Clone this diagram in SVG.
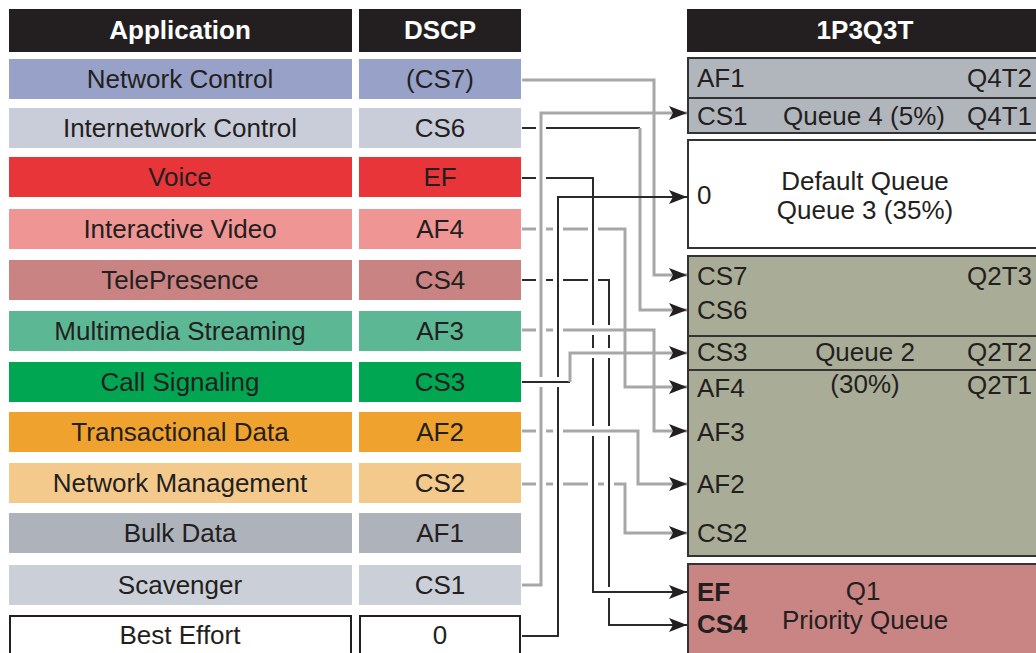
<svg xmlns="http://www.w3.org/2000/svg" width="1036" height="653" viewBox="0 0 1036 653">
  <style>
    text { font-family: "Liberation Sans", Arial, sans-serif; font-size: 26px; fill: #231f20; }
    .hd { fill: #231f20; }
    .hdt { fill: #ffffff; font-weight: bold; text-anchor: middle; }
    .c { text-anchor: middle; }
    .r { text-anchor: end; }
    .b { font-weight: bold; }
    .q { stroke: #333333; stroke-width: 2; }
    .g { fill: none; stroke: #a7a7a7; stroke-width: 3; }
    .k { fill: none; stroke: #2a2a2a; stroke-width: 2; }
  </style>
  <defs>
    <marker id="arrow" markerUnits="userSpaceOnUse" markerWidth="20" markerHeight="14" refX="18" refY="7" orient="auto">
      <path d="M0,0 L18,7 L0,14 L4,7 z" fill="#231f20"/>
    </marker>
  </defs>
  <rect width="1036" height="653" fill="#ffffff"/>

  <!-- column headers -->
  <g id="hdr-app"><rect class="hd" x="9" y="9" width="343" height="43"/><text class="hdt" x="180" y="39">Application</text></g>
  <g id="hdr-dscp"><rect class="hd" x="359" y="9" width="162" height="43"/><text class="hdt" x="440" y="39">DSCP</text></g>
  <g id="hdr-queue"><rect class="hd" x="687" y="9" width="360" height="43"/><text class="hdt" x="865" y="39">1P3Q3T</text></g>

  <!-- application / DSCP rows -->
  <g id="row-cs7"><rect x="9" y="59" width="343" height="40" fill="#98a1c8"/><rect x="359" y="59" width="162" height="40" fill="#98a1c8"/><text class="c" x="180" y="88">Network Control</text><text class="c" x="440" y="88">(CS7)</text></g>
  <g id="row-cs6"><rect x="9" y="108" width="343" height="40" fill="#c9ccd9"/><rect x="359" y="108" width="162" height="40" fill="#c9ccd9"/><text class="c" x="180" y="137">Internetwork Control</text><text class="c" x="440" y="137">CS6</text></g>
  <g id="row-ef"><rect x="9" y="157" width="343" height="40" fill="#e8353a"/><rect x="359" y="157" width="162" height="40" fill="#e8353a"/><text class="c" x="180" y="186">Voice</text><text class="c" x="440" y="186">EF</text></g>
  <g id="row-af4"><rect x="9" y="209" width="343" height="40" fill="#ef9594"/><rect x="359" y="209" width="162" height="40" fill="#ef9594"/><text class="c" x="180" y="238">Interactive Video</text><text class="c" x="440" y="238">AF4</text></g>
  <g id="row-cs4"><rect x="9" y="260" width="343" height="40" fill="#c98383"/><rect x="359" y="260" width="162" height="40" fill="#c98383"/><text class="c" x="180" y="289">TelePresence</text><text class="c" x="440" y="289">CS4</text></g>
  <g id="row-af3"><rect x="9" y="311" width="343" height="40" fill="#5cb894"/><rect x="359" y="311" width="162" height="40" fill="#5cb894"/><text class="c" x="180" y="340">Multimedia Streaming</text><text class="c" x="440" y="340">AF3</text></g>
  <g id="row-cs3"><rect x="9" y="362" width="343" height="40" fill="#00a651"/><rect x="359" y="362" width="162" height="40" fill="#00a651"/><text class="c" x="180" y="391">Call Signaling</text><text class="c" x="440" y="391">CS3</text></g>
  <g id="row-af2"><rect x="9" y="412" width="343" height="40" fill="#f0a22e"/><rect x="359" y="412" width="162" height="40" fill="#f0a22e"/><text class="c" x="180" y="441">Transactional Data</text><text class="c" x="440" y="441">AF2</text></g>
  <g id="row-cs2"><rect x="9" y="463" width="343" height="40" fill="#f4ca8c"/><rect x="359" y="463" width="162" height="40" fill="#f4ca8c"/><text class="c" x="180" y="492">Network Management</text><text class="c" x="440" y="492">CS2</text></g>
  <g id="row-af1"><rect x="9" y="513" width="343" height="40" fill="#adb2bb"/><rect x="359" y="513" width="162" height="40" fill="#adb2bb"/><text class="c" x="180" y="542">Bulk Data</text><text class="c" x="440" y="542">AF1</text></g>
  <g id="row-cs1"><rect x="9" y="565" width="343" height="40" fill="#cbcfd8"/><rect x="359" y="565" width="162" height="40" fill="#cbcfd8"/><text class="c" x="180" y="594">Scavenger</text><text class="c" x="440" y="594">CS1</text></g>
  <g id="row-be"><rect x="10" y="616" width="341" height="45" fill="#ffffff" stroke="#231f20" stroke-width="2"/><rect x="360" y="616" width="160" height="45" fill="#ffffff" stroke="#231f20" stroke-width="2"/><text class="c" x="180" y="644">Best Effort</text><text class="c" x="440" y="644">0</text></g>

  <!-- queue 4 -->
  <g id="queue4">
    <rect class="q" x="688" y="58" width="360" height="75" fill="#b1b6bd"/>
    <line class="q" x1="688" y1="98" x2="1048" y2="98"/>
    <text x="697" y="87">AF1</text><text class="r" x="1032" y="87">Q4T2</text>
    <text x="697" y="125">CS1</text><text class="c" x="864" y="125">Queue 4 (5%)</text><text class="r" x="1032" y="125">Q4T1</text>
  </g>
  <!-- queue 3 -->
  <g id="queue3">
    <rect class="q" x="688" y="140" width="360" height="108" fill="#ffffff"/>
    <text x="697" y="204">0</text>
    <text class="c" x="865" y="190">Default Queue</text>
    <text class="c" x="865" y="219">Queue 3 (35%)</text>
  </g>
  <!-- queue 2 -->
  <g id="queue2">
    <rect class="q" x="688" y="256" width="360" height="300" fill="#a9ac97"/>
    <line class="q" x1="688" y1="336" x2="1048" y2="336"/>
    <line class="q" x1="688" y1="370" x2="1048" y2="370"/>
    <text x="697" y="285">CS7</text><text class="r" x="1032" y="285">Q2T3</text>
    <text x="697" y="319">CS6</text>
    <text x="697" y="361">CS3</text><text class="c" x="865" y="361">Queue 2</text><text class="r" x="1032" y="361">Q2T2</text>
    <text x="697" y="397">AF4</text><text class="c" x="865" y="393">(30%)</text><text class="r" x="1032" y="394">Q2T1</text>
    <text x="697" y="441">AF3</text>
    <text x="697" y="493">AF2</text>
    <text x="697" y="542">CS2</text>
  </g>
  <!-- queue 1 -->
  <g id="queue1">
    <rect class="q" x="688" y="564" width="360" height="100" fill="#c98584"/>
    <text class="b" x="697" y="601">EF</text><text class="c" x="863" y="600">Q1</text>
    <text class="b" x="697" y="633">CS4</text><text class="c" x="865" y="629">Priority Queue</text>
  </g>

  <!-- connectors from DSCP values to queues -->
  <g id="connectors">
    <!-- CS7 -->
    <path class="g" d="M522,80 H654 V275 H687" marker-end="url(#arrow)"/>
    <!-- CS6 -->
    <path class="k" d="M522,128 H536 M546,128 H640"/>
    <path class="g" d="M640,128 V310 H687" marker-end="url(#arrow)"/>
    <!-- EF -->
    <path class="k" d="M522,178 H536 M546,178 H593 V325 M593,335 V348 M593,358 V426"/>
    <path class="k" d="M593,436 V592 H687" marker-end="url(#arrow)"/>
    <!-- AF4 -->
    <path class="g" d="M522,229 H536 M546,229 H553 M563,229 H588"/>
    <path class="g" d="M598,229 H625 V387 H687" marker-end="url(#arrow)"/>
    <!-- CS4 -->
    <path class="k" d="M522,280 H536 M546,280 H553 M563,280 H588 M598,280 H609 V325 M609,335 V348 M609,358 V426 M609,436 V587"/>
    <path class="k" d="M609,598 V625 H687" marker-end="url(#arrow)"/>
    <!-- AF3 -->
    <path class="g" d="M522,330 H536 M546,330 H553"/>
    <path class="g" d="M563,330 H654 V431 H687" marker-end="url(#arrow)"/>
    <!-- CS3 -->
    <path class="k" d="M522,382 H570"/>
    <path class="g" d="M570,382 V353 H687" marker-end="url(#arrow)"/>
    <!-- AF2 -->
    <path class="g" d="M522,431 H536 M546,431 H553"/>
    <path class="g" d="M563,431 H638 V484 H687" marker-end="url(#arrow)"/>
    <!-- CS2 -->
    <path class="g" d="M522,484 H536 M546,484 H553 M563,484 H588 M598,484 H604"/>
    <path class="g" d="M614,484 H625 V533 H687" marker-end="url(#arrow)"/>
    <!-- CS1 -->
    <path class="g" d="M522,585 H541 V387"/>
    <path class="g" d="M541,377 V113 H687" marker-end="url(#arrow)"/>
    <!-- 0 -->
    <path class="k" d="M522,636 H558 V387"/>
    <path class="k" d="M558,377 V197 H687" marker-end="url(#arrow)"/>
  </g>
</svg>
